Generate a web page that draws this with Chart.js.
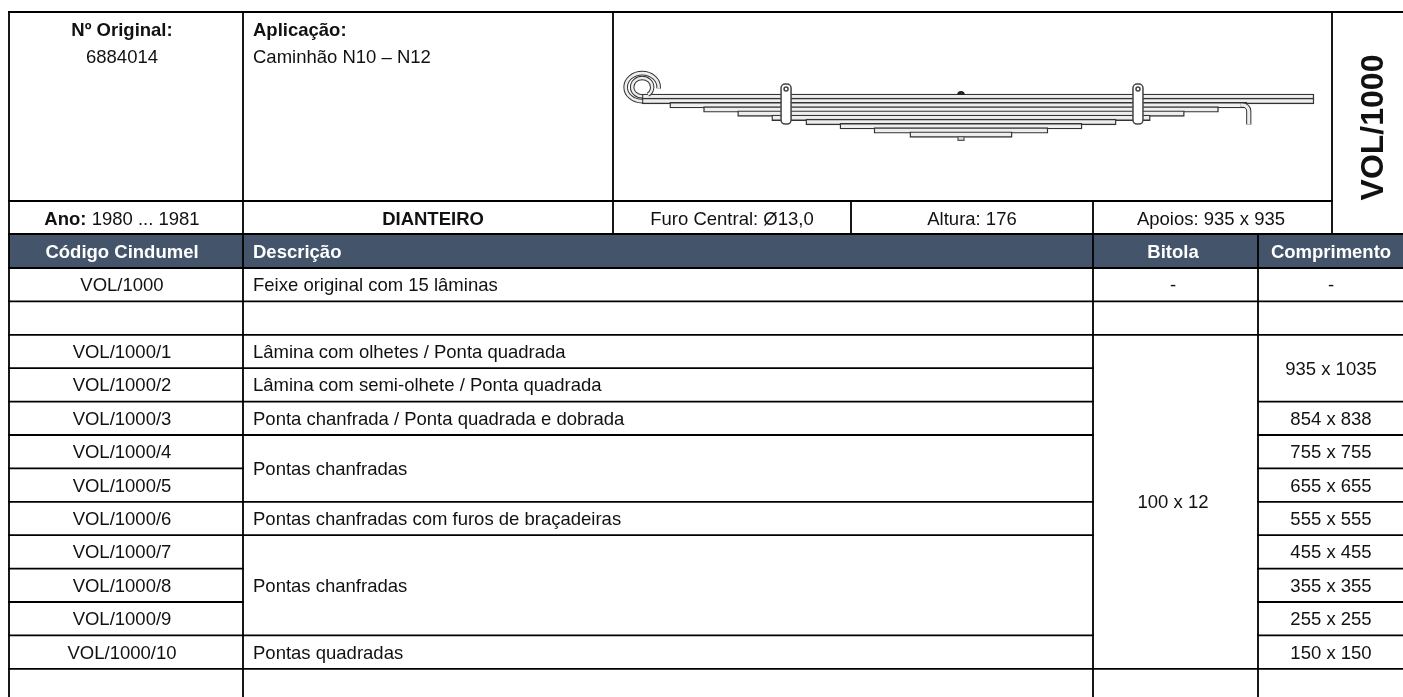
<!DOCTYPE html>
<html>
<head>
<meta charset="utf-8">
<title>VOL/1000</title>
<script src="https://cdn.jsdelivr.net/npm/chart.js@4/dist/chart.umd.min.js"></script>
<style>
    html, body { margin: 0; padding: 0; background: #fff; }
    canvas { display: block; }
</style>
</head>
<body>
<canvas id="ficha" width="1403" height="697"></canvas>
<script>
// null = cell merged with the row above
const codigos = ["VOL/1000", "", "VOL/1000/1", "VOL/1000/2", "VOL/1000/3", "VOL/1000/4", "VOL/1000/5", "VOL/1000/6", "VOL/1000/7", "VOL/1000/8", "VOL/1000/9", "VOL/1000/10", ""];
const descricoes = ["Feixe original com 15 lâminas", "", "Lâmina com olhetes / Ponta quadrada", "Lâmina com semi-olhete / Ponta quadrada", "Ponta chanfrada / Ponta quadrada e dobrada", "Pontas chanfradas", null, "Pontas chanfradas com furos de braçadeiras", "Pontas chanfradas", null, null, "Pontas quadradas", ""];
const bitolas = ["-", "", "100 x 12", null, null, null, null, null, null, null, null, null, ""];
const comprimentos = ["-", "", "935 x 1035", null, "854 x 838", "755 x 755", "655 x 655", "555 x 555", "455 x 455", "355 x 355", "255 x 255", "150 x 150", ""];

// leaf lengths in mm, each side of the centre bolt
const laminas = [1, 2, 3, 4, 5, 6, 7, 8, 9, 10];
const ladoEsquerdo = [935, 935, 854, 755, 655, 555, 455, 355, 255, 150];
const ladoDireito = [1035, 1035, 838, 755, 655, 555, 455, 355, 255, 150];

const cabecalho = ["Código Cindumel", "Descrição", "Bitola", "Comprimento"];

// page layout
const WIDTH = 1403, HEIGHT = 697;
const colX = { left: 9, code: 243, mid1: 613, mid2: 851, desc: 1093, bitola: 1258, vol: 1332 };
const rowY = { top: 12, info: 201, head: 234, body: 268, rowH: 33.4 };
const textX = { code: 122, desc: 253, bitola: 1173, comp: 1331 };

// spring drawing: px per mm and px per leaf
const pxMm = 0.341, pxLeaf = 4.2, centreX = 961, firstLeafY = 96.8;

const FONT = '"Liberation Sans", Arial, sans-serif';
const fontSize = 18.5;

function rowEdge(i) {
    return rowY.body + i * rowY.rowH;
}

function rule(x1, y1, x2, y2) {
    return {
        type: "line",
        xAxisID: "x",
        yAxisID: "y",
        data: [{ x: x1, y: y1 }, { x: x2, y: y2 }],
        borderColor: "#000",
        borderWidth: 1.8,
        borderCapStyle: "square",
        pointRadius: 0,
        order: 1
    };
}

function buildRules() {
    let out = [];
    // top block
    out.push(rule(colX.left, rowY.top, WIDTH, rowY.top));
    out.push(rule(colX.left, rowY.info, colX.vol, rowY.info));
    out.push(rule(colX.left, rowY.head, WIDTH, rowY.head));
    out.push(rule(colX.left, rowY.body, WIDTH, rowY.body));
    out.push(rule(colX.left, rowY.top, colX.left, HEIGHT));
    out.push(rule(colX.code, rowY.top, colX.code, HEIGHT));
    out.push(rule(colX.mid1, rowY.top, colX.mid1, rowY.head));
    out.push(rule(colX.mid2, rowY.info, colX.mid2, rowY.head));
    out.push(rule(colX.desc, rowY.info, colX.desc, HEIGHT));
    out.push(rule(colX.bitola, rowY.head, colX.bitola, HEIGHT));
    out.push(rule(colX.vol, rowY.top, colX.vol, rowY.head));
    // body rows: a column only gets a rule when the next cell is not merged
    for (let i = 1; i < codigos.length; i++) {
        let y = rowEdge(i);
        out.push(rule(colX.left, y, colX.code, y));
        if (descricoes[i] !== null) out.push(rule(colX.code, y, colX.desc, y));
        if (bitolas[i] !== null) out.push(rule(colX.desc, y, colX.bitola, y));
        if (comprimentos[i] !== null) out.push(rule(colX.bitola, y, WIDTH, y));
    }
    return out;
}

function cellCentre(list, i) {
    let last = i;
    while (last + 1 < list.length && list[last + 1] === null) last++;
    return (rowEdge(i) + rowEdge(last + 1)) / 2;
}

function putText(ctx, str, x, y, align, bold, color) {
    ctx.font = (bold ? "bold " : "") + fontSize + "px " + FONT;
    ctx.textAlign = align;
    ctx.textBaseline = "alphabetic";
    ctx.fillStyle = color || "#111";
    ctx.fillText(str, x, y);
}

// text sits with its cap height centred on y
function midText(ctx, str, x, y, align, bold, color) {
    putText(ctx, str, x, y + 6.5, align, bold, color);
}

function drawTexts(chart) {
    let ctx = chart.ctx;
    let sx = chart.scales.x, sy = chart.scales.y;
    ctx.save();

    midText(ctx, "Nº Original:", sx.getPixelForValue(textX.code), sy.getPixelForValue(29), "center", true);
    midText(ctx, "6884014", sx.getPixelForValue(textX.code), sy.getPixelForValue(56), "center", false);
    midText(ctx, "Aplicação:", sx.getPixelForValue(textX.desc), sy.getPixelForValue(29), "left", true);
    midText(ctx, "Caminhão N10 – N12", sx.getPixelForValue(textX.desc), sy.getPixelForValue(56), "left", false);

    let infoY = sy.getPixelForValue(218);
    // "Ano:" bold followed by the years in regular, centred as one run
    ctx.font = "bold " + fontSize + "px " + FONT;
    let w1 = ctx.measureText("Ano: ").width;
    ctx.font = fontSize + "px " + FONT;
    let w2 = ctx.measureText("1980 ... 1981").width;
    let startX = sx.getPixelForValue(textX.code) - (w1 + w2) / 2;
    midText(ctx, "Ano: ", startX, infoY, "left", true);
    midText(ctx, "1980 ... 1981", startX + w1, infoY, "left", false);

    midText(ctx, "DIANTEIRO", sx.getPixelForValue(433), infoY, "center", true);
    midText(ctx, "Furo Central: Ø13,0", sx.getPixelForValue(732), infoY, "center", false);
    midText(ctx, "Altura: 176", sx.getPixelForValue(972), infoY, "center", false);
    midText(ctx, "Apoios: 935 x 935", sx.getPixelForValue(1211), infoY, "center", false);

    let headY = sy.getPixelForValue((rowY.head + rowY.body) / 2);
    midText(ctx, cabecalho[0], sx.getPixelForValue(textX.code), headY, "center", true, "#fff");
    midText(ctx, cabecalho[1], sx.getPixelForValue(textX.desc), headY, "left", true, "#fff");
    midText(ctx, cabecalho[2], sx.getPixelForValue(textX.bitola), headY, "center", true, "#fff");
    midText(ctx, cabecalho[3], sx.getPixelForValue(textX.comp), headY, "center", true, "#fff");

    codigos.forEach(function (c, i) {
        if (c) midText(ctx, c, sx.getPixelForValue(textX.code), sy.getPixelForValue(cellCentre(codigos, i)), "center", false);
    });
    descricoes.forEach(function (d, i) {
        if (d) midText(ctx, d, sx.getPixelForValue(textX.desc), sy.getPixelForValue(cellCentre(descricoes, i)), "left", false);
    });
    bitolas.forEach(function (b, i) {
        if (b) midText(ctx, b, sx.getPixelForValue(textX.bitola), sy.getPixelForValue(cellCentre(bitolas, i)), "center", false);
    });
    comprimentos.forEach(function (c, i) {
        if (c) midText(ctx, c, sx.getPixelForValue(textX.comp), sy.getPixelForValue(cellCentre(comprimentos, i)), "center", false);
    });

    // rotated code on the right
    ctx.translate(sx.getPixelForValue(1383), sy.getPixelForValue(127.5));
    ctx.rotate(-Math.PI / 2);
    ctx.font = "bold 32px " + FONT;
    ctx.textAlign = "center";
    ctx.textBaseline = "alphabetic";
    ctx.fillStyle = "#111";
    ctx.fillText("VOL/1000", 0, 0);
    ctx.restore();
}

// outlined stroke: dark outer, white inner
function tube(ctx, inner) {
    ctx.strokeStyle = "#333";
    ctx.lineWidth = inner + 2;
    ctx.stroke();
    ctx.strokeStyle = "#eee";
    ctx.lineWidth = inner;
    ctx.stroke();
}

function drawClamp(ctx, mm, mx, my) {
    let cx = mx.getPixelForValue(mm);
    let top = my.getPixelForValue(-2.05), bottom = my.getPixelForValue(7.5);
    ctx.beginPath();
    ctx.roundRect(cx - 5, top, 10, bottom - top, 4);
    ctx.fillStyle = "#fff";
    ctx.fill();
    ctx.strokeStyle = "#444";
    ctx.lineWidth = 1.5;
    ctx.stroke();
    ctx.beginPath();
    ctx.arc(cx, top + 5, 2, 0, Math.PI * 2);
    ctx.stroke();
}

function drawSpringParts(chart) {
    let ctx = chart.ctx;
    let mx = chart.scales.xMola, my = chart.scales.yMola;
    ctx.save();
    ctx.lineCap = "butt";

    // eye of leaf 1 and semi-eye of leaf 2, wound around the left support
    // the drawing is stretched a little in width, so these are ellipses
    let eyeX = mx.getPixelForValue(-ladoEsquerdo[0]);
    let eyeY = my.getPixelForValue(-1.3);
    ctx.beginPath();
    ctx.ellipse(eyeX, eyeY, 16.5, 14, 0, Math.PI / 2, Math.PI * 2 + 0.1);
    tube(ctx, 2.6);
    ctx.beginPath();
    ctx.ellipse(eyeX, eyeY, 10, 9.2, 0, Math.PI / 2, Math.PI * 2 + 0.95);
    tube(ctx, 2.4);

    // bent end of leaf 3
    let endX = mx.getPixelForValue(ladoDireito[2]);
    let y3 = my.getPixelForValue(3);
    ctx.beginPath();
    ctx.moveTo(endX - 6, y3);
    ctx.arcTo(endX + 2, y3, endX + 2, y3 + 8, 6);
    ctx.lineTo(endX + 2, my.getPixelForValue(7.6));
    tube(ctx, 3.2);

    // centre bolt head and nut
    let boltX = mx.getPixelForValue(0);
    ctx.beginPath();
    ctx.arc(boltX, my.getPixelForValue(0.55), 3.8, Math.PI, 0);
    ctx.fillStyle = "#222";
    ctx.fill();
    ctx.fillStyle = "#ddd";
    ctx.strokeStyle = "#555";
    ctx.lineWidth = 1.2;
    ctx.beginPath();
    ctx.rect(boltX - 3, my.getPixelForValue(10.5), 6, 3.6);
    ctx.fill();
    ctx.stroke();

    drawClamp(ctx, -513, mx, my);
    drawClamp(ctx, 519, mx, my);
    ctx.restore();
}

const fichaPlugin = {
    id: "ficha",
    afterDatasetsDraw: function (chart) {
        drawSpringParts(chart);
        drawTexts(chart);
    }
};

const datasets = buildRules();

// dark header band
datasets.push({
    type: "bar",
    indexAxis: "y",
    xAxisID: "x",
    yAxisID: "y",
    grouped: false,
    data: [{ x: [colX.left, WIDTH], y: (rowY.head + rowY.body) / 2 }],
    barThickness: rowY.body - rowY.head,
    backgroundColor: "#44546a",
    order: 5
});

// spring leaves
datasets.push({
    type: "bar",
    indexAxis: "y",
    xAxisID: "xMola",
    yAxisID: "yMola",
    grouped: false,
    data: laminas.map(function (n, i) {
        return { x: [-ladoEsquerdo[i], ladoDireito[i]], y: n };
    }),
    barThickness: pxLeaf + 1.4,
    backgroundColor: "#eee",
    borderColor: "#333",
    borderWidth: 1.4,
    borderSkipped: false,
    order: 3
});

new Chart("ficha", {
    data: { datasets: datasets },
    plugins: [fichaPlugin],
    options: {
        responsive: false,
        animation: false,
        events: [],
        layout: { padding: 0 },
        plugins: {
            legend: { display: false },
            title: { display: false },
            tooltip: { enabled: false }
        },
        scales: {
            x: { type: "linear", display: false, offset: false, min: 0, max: WIDTH },
            y: { type: "linear", display: false, offset: false, min: 0, max: HEIGHT, reverse: true },
            xMola: { type: "linear", display: false, offset: false, min: -centreX / pxMm, max: (WIDTH - centreX) / pxMm },
            yMola: { type: "linear", display: false, offset: false, min: 1 - firstLeafY / pxLeaf, max: 1 + (HEIGHT - firstLeafY) / pxLeaf, reverse: true }
        }
    }
});
</script>
</body>
</html>
